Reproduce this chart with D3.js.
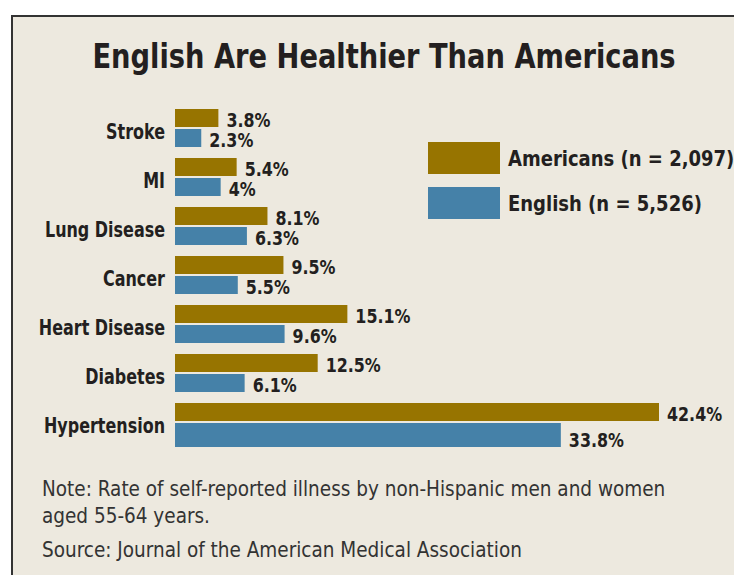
<!DOCTYPE html>
<html>
<head>
<meta charset="utf-8">
<script src="https://cdn.jsdelivr.net/npm/d3@7"></script>
<style>
  body { margin: 0; background: #fff; }
  svg { display: block; }
</style>
</head>
<body>
<div id="chart"></div>
<script>
// DATA
const categories = ["Stroke", "MI", "Lung Disease", "Cancer", "Heart Disease", "Diabetes", "Hypertension"];
const americans = [3.8, 5.4, 8.1, 9.5, 15.1, 12.5, 42.4];
const english = [2.3, 4, 6.3, 5.5, 9.6, 6.1, 33.8];
const valueLabels = {
  Americans: ["3.8%", "5.4%", "8.1%", "9.5%", "15.1%", "12.5%", "42.4%"],
  English: ["2.3%", "4%", "6.3%", "5.5%", "9.6%", "6.1%", "33.8%"]
};
const seriesNames = ["Americans", "English"];
const legendLabels = ["Americans (n = 2,097)", "English (n = 5,526)"];
const title = "English Are Healthier Than Americans";
const notes = [
  "Note: Rate of self-reported illness by non-Hispanic men and women",
  "aged 55-64 years.",
  "Source: Journal of the American Medical Association"
];

// Styles
const width = 734, height = 575;
const bg = "#ede9df";
const ink = "#231f20";
const colors = ["#977400", "#4581a8"];
const condensed = "'DejaVu Sans Condensed', 'DejaVu Sans', sans-serif";

// Helper: place text at (x,y) squeezed horizontally by k
// (no narrow bold font available, so squeeze the condensed one)
function squeeze(sel, xf, yf, k) {
  sel.attr("x", 0).attr("y", 0)
    .attr("transform", (d, i) => `translate(${xf(d, i)},${yf(d, i)}) scale(${k},1)`);
}

const svg = d3.select("#chart").append("svg")
  .attr("width", width)
  .attr("height", height);

// panel + border
svg.append("rect")
  .attr("x", 12).attr("y", 16)
  .attr("width", width - 12).attr("height", height - 16)
  .attr("fill", bg);
svg.append("path")
  .attr("d", `M12,${height} V16 H${width}`)
  .attr("fill", "none")
  .attr("stroke", "#333")
  .attr("stroke-width", 2);

// title
svg.append("text")
  .attr("text-anchor", "middle")
  .style("font-family", condensed)
  .style("font-weight", "bold")
  .style("font-size", "33px")
  .attr("fill", ink)
  .text(title)
  .call(squeeze, () => 384, () => 68, 0.92);

// scales
const x = d3.scaleLinear().domain([0, 42.4]).range([175, 659]);
const y = d3.scaleBand().domain(categories).range([109, 109 + 49 * categories.length]);
const ySub = d3.scaleBand().domain(seriesNames).range([0, 38]).paddingInner(0.1);

const rows = categories.map((c, i) => ({
  cat: c,
  vals: [americans[i], english[i]]
}));

const groups = svg.append("g").selectAll("g")
  .data(rows)
  .join("g")
  .attr("transform", d => `translate(0,${y(d.cat)})`);

// category labels
groups.append("text")
  .attr("text-anchor", "end")
  .style("font-family", condensed)
  .style("font-weight", "bold")
  .style("font-size", "21px")
  .attr("fill", ink)
  .text(d => d.cat)
  .call(squeeze, () => 165, () => ySub.range()[1] / 2 + 11, 0.845);

// last English bar is drawn a bit taller in the original
const extra = d => (d.last && d.s == "English") ? 6 : 0;

// bars
groups.selectAll("rect")
  .data((d, i) => d.vals.map((v, j) => ({ v, s: seriesNames[j], last: i == categories.length - 1 })))
  .join("rect")
  .attr("x", x(0))
  .attr("y", d => ySub(d.s))
  .attr("width", d => x(d.v) - x(0))
  .attr("height", d => ySub.bandwidth() + extra(d))
  .attr("fill", d => colors[seriesNames.indexOf(d.s)]);

// value labels
groups.selectAll("text.val")
  .data((d, i) => d.vals.map((v, j) => ({ v, s: seriesNames[j], label: valueLabels[seriesNames[j]][i], last: i == categories.length - 1 })))
  .join("text")
  .attr("class", "val")
  .style("font-family", condensed)
  .style("font-weight", "bold")
  .style("font-size", "19px")
  .attr("fill", ink)
  .text(d => d.label)
  .call(squeeze, d => x(d.v) + 8, d => ySub(d.s) + ySub.bandwidth() + extra(d) - 0.5, 0.93);

// legend
const legend = svg.append("g").selectAll("g")
  .data(seriesNames)
  .join("g")
  .attr("transform", (d, i) => `translate(428,${142 + i * 45})`);
legend.append("rect")
  .attr("width", 72).attr("height", 32)
  .attr("fill", (d, i) => colors[i]);
legend.append("text")
  .style("font-family", condensed)
  .style("font-weight", "bold")
  .style("font-size", "22px")
  .attr("fill", ink)
  .text((d, i) => legendLabels[i])
  .call(squeeze, () => 80, () => 24, 0.91);

// notes
svg.append("g").selectAll("text")
  .data(notes)
  .join("text")
  .attr("x", 42)
  .attr("y", (d, i) => [496, 523, 557][i])
  .style("font-family", condensed)
  .style("font-size", "20.5px")
  .attr("fill", "#333")
  .text(d => d);
</script>
</body>
</html>
